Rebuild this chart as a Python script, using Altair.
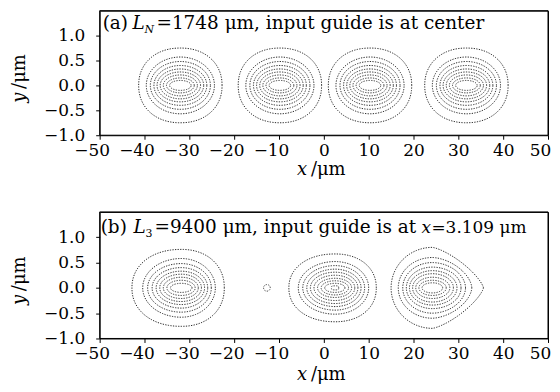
import altair as alt
import numpy as np
import pandas as pd

# ---------------- data ----------------
X_DOMAIN = [-50, 50]
Y_DOMAIN = [-1.0, 1.5]
X_TICKS = [-50, -40, -30, -20, -10, 0, 10, 20, 30, 40, 50]
Y_TICKS = [-1.0, -0.5, 0.0, 0.5, 1.0]

# Panel (a): four output guides (contour half-widths in um, half-heights in um)
A_CENTERS = [-32.0, -9.8, 10.3, 31.8]
A_RX = [9.3, 7.6, 6.7, 5.9, 5.2, 4.5, 3.8, 3.1, 2.4]
A_RY = [0.75, 0.57, 0.48, 0.40, 0.33, 0.27, 0.21, 0.15, 0.10]

# Panel (b)
B1_CENTER = -31.8
B1_RXL = [11.0, 8.6, 7.5, 6.5, 5.6, 4.8, 4.0, 3.2, 2.4]
B1_RXR = [9.6, 7.6, 6.7, 5.9, 5.2, 4.5, 3.8, 3.1, 2.4]
B1_RY = [0.76, 0.58, 0.48, 0.40, 0.33, 0.27, 0.21, 0.15, 0.09]

B0_CENTER = -12.7
B0_RX = [0.75]
B0_RY = [0.065]

B2_CENTER = 2.5
B2_RXL = [10.3, 8.2, 7.2, 6.3, 5.5, 4.7, 3.9, 3.1, 2.3, 0.8]
B2_RXR = [9.2, 7.5, 6.6, 5.8, 5.1, 4.4, 3.7, 3.0, 2.2, 0.8]
B2_RY = [0.67, 0.52, 0.44, 0.37, 0.31, 0.25, 0.19, 0.14, 0.09, 0.04]

B3_CENTER = 24.2
B3_RXL = [9.2, 7.6, 6.6, 5.8, 5.1, 4.4, 3.7, 3.0, 2.3]
B3_RXR = [11.4, 8.8, 7.4, 6.4, 5.5, 4.7, 3.9, 3.1, 2.3]
B3_RY = [0.80, 0.60, 0.50, 0.41, 0.34, 0.28, 0.21, 0.15, 0.10]
B3_RIGHT_SHAPE = [1.35, 1.7, 1.9, 2, 2, 2, 2, 2, 2]   # pointed outer contour on the right

FONT = "DejaVu Serif"
W, HA, HB = 450, 125, 127
TS = 18.5  # title font size
LS = 17    # tick label font size


def outline(cid, cx, rxl, rxr, ry, pl=2.0, pr=2.0, n=160):
    t = np.linspace(0, 2 * np.pi, n + 1)
    c, s = np.cos(t), np.sin(t)
    p = np.where(c >= 0, pr, pl)
    rx = np.where(c >= 0, rxr, rxl)
    x = cx + rx * np.sign(c) * np.abs(c) ** (2.0 / p)
    y = ry * np.sign(s) * np.abs(s) ** (2.0 / p)
    return pd.DataFrame({"cid": cid, "o": np.arange(n + 1), "x": x, "y": y})


def build_a():
    frames = []
    for m, cx in enumerate(A_CENTERS):
        for k, (rx, ry) in enumerate(zip(A_RX, A_RY)):
            pe = 2.15 if k == 0 else 2.0
            frames.append(outline(f"a{m}_{k}", cx, rx, rx, ry, pe, pe))
    return pd.concat(frames)


def build_b():
    frames = []
    for k, (l, r, ry) in enumerate(zip(B1_RXL, B1_RXR, B1_RY)):
        pe = 2.15 if k == 0 else 2.0
        frames.append(outline(f"b1_{k}", B1_CENTER, l, r, ry, pe, pe))
    for k, (rx, ry) in enumerate(zip(B0_RX, B0_RY)):
        frames.append(outline(f"b0_{k}", B0_CENTER, rx, rx, ry))
    for k, (l, r, ry) in enumerate(zip(B2_RXL, B2_RXR, B2_RY)):
        pe = 2.15 if k == 0 else (4.0 if k == len(B2_RY) - 1 else 2.0)
        frames.append(outline(f"b2_{k}", B2_CENTER, l, r, ry, pe, pe))
    for k, (l, r, ry, pr) in enumerate(zip(B3_RXL, B3_RXR, B3_RY, B3_RIGHT_SHAPE)):
        frames.append(outline(f"b3_{k}", B3_CENTER, l, r, ry, 2.0, pr))
    return pd.concat(frames)


def xaxis():
    return alt.Axis(values=X_TICKS, format="d", title=None, grid=False,
                    tickSize=4, labelPadding=3, domain=False, ticks=True,
                    tickColor="black", labelFont=FONT, labelFontSize=LS,
                    labelColor="black", labelFlush=False, labelOverlap=False,
                    labelOffset={"condition": {"test": "datum.value < 0 || datum.value >= 50",
                                               "value": -8},
                                 "value": 0})


def yaxis():
    return alt.Axis(values=Y_TICKS, format=".1f", title=None, grid=False,
                    tickSize=4, labelPadding=11, domain=False,
                    tickColor="black", labelFont=FONT, labelFontSize=LS,
                    labelColor="black", labelOverlap=False)


def txt(s, x, y, size=TS, style="normal", baseline="alphabetic", angle=0):
    kw = dict(text=s, font=FONT, fontSize=size, fontStyle=style, align="left",
              baseline=baseline, color="black")
    if angle:
        kw["angle"] = angle
    return alt.Chart(pd.DataFrame({"t": [s]})).mark_text(**kw).encode(
        x=alt.value(x), y=alt.value(y))


def panel(df, h, label_parts, title_dy):
    lines = alt.Chart(df).mark_line(
        color="#2a2a2a", strokeWidth=1.0, strokeDash=[1.3, 1.3], clip=True
    ).encode(
        x=alt.X("x:Q", scale=alt.Scale(domain=X_DOMAIN, nice=False, zero=False), axis=xaxis()),
        y=alt.Y("y:Q", scale=alt.Scale(domain=Y_DOMAIN, nice=False, zero=False), axis=yaxis()),
        detail="cid:N",
        order="o:Q",
    )
    frame = alt.Chart(pd.DataFrame({"f": [0]})).mark_rect(
        fill=None, stroke="black", strokeWidth=1
    ).encode(x=alt.value(0), x2=alt.value(W), y=alt.value(0), y2=alt.value(h))
    layers = [lines, frame]
    for p in label_parts:
        layers.append(txt(*p))
    # axis titles with italic variable
    layers.append(txt("x", 198, h + title_dy, 18, "italic"))
    layers.append(txt("/μm", 212, h + title_dy, 18))
    layers.append(txt("y", -80, h * 0.5 + 30, 18, "italic", "middle", 270))
    layers.append(txt("/μm", -80, h * 0.5 + 16, 18, "normal", "middle", 270))
    return alt.layer(*layers).properties(width=W, height=h)


parts_a = [
    ("(a)", 3, 18),
    ("L", 33, 18, TS, "italic"),
    ("N", 45, 22, 11, "italic"),
    ("=1748 μm, input guide is at center", 57, 18),
]
parts_b = [
    ("(b)", 1, 21),
    ("L", 34, 21, TS, "italic"),
    ("3", 46, 25, 11),
    ("=9400 μm, input guide is at", 55, 21),
    ("x", 323, 21, 17, "italic"),
    ("=3.109 μm", 333, 21, 17),
]

chart = alt.vconcat(
    panel(build_a(), HA, parts_a, 40),
    panel(build_b(), HB, parts_b, 42),
    spacing=31,
).properties(
    padding={"left": 2, "top": 1, "right": 0, "bottom": 0},
    background="white",
).configure_view(
    stroke="black", strokeWidth=1
)

chart.save("out.html", embed_options={"renderer": "svg", "actions": False})
